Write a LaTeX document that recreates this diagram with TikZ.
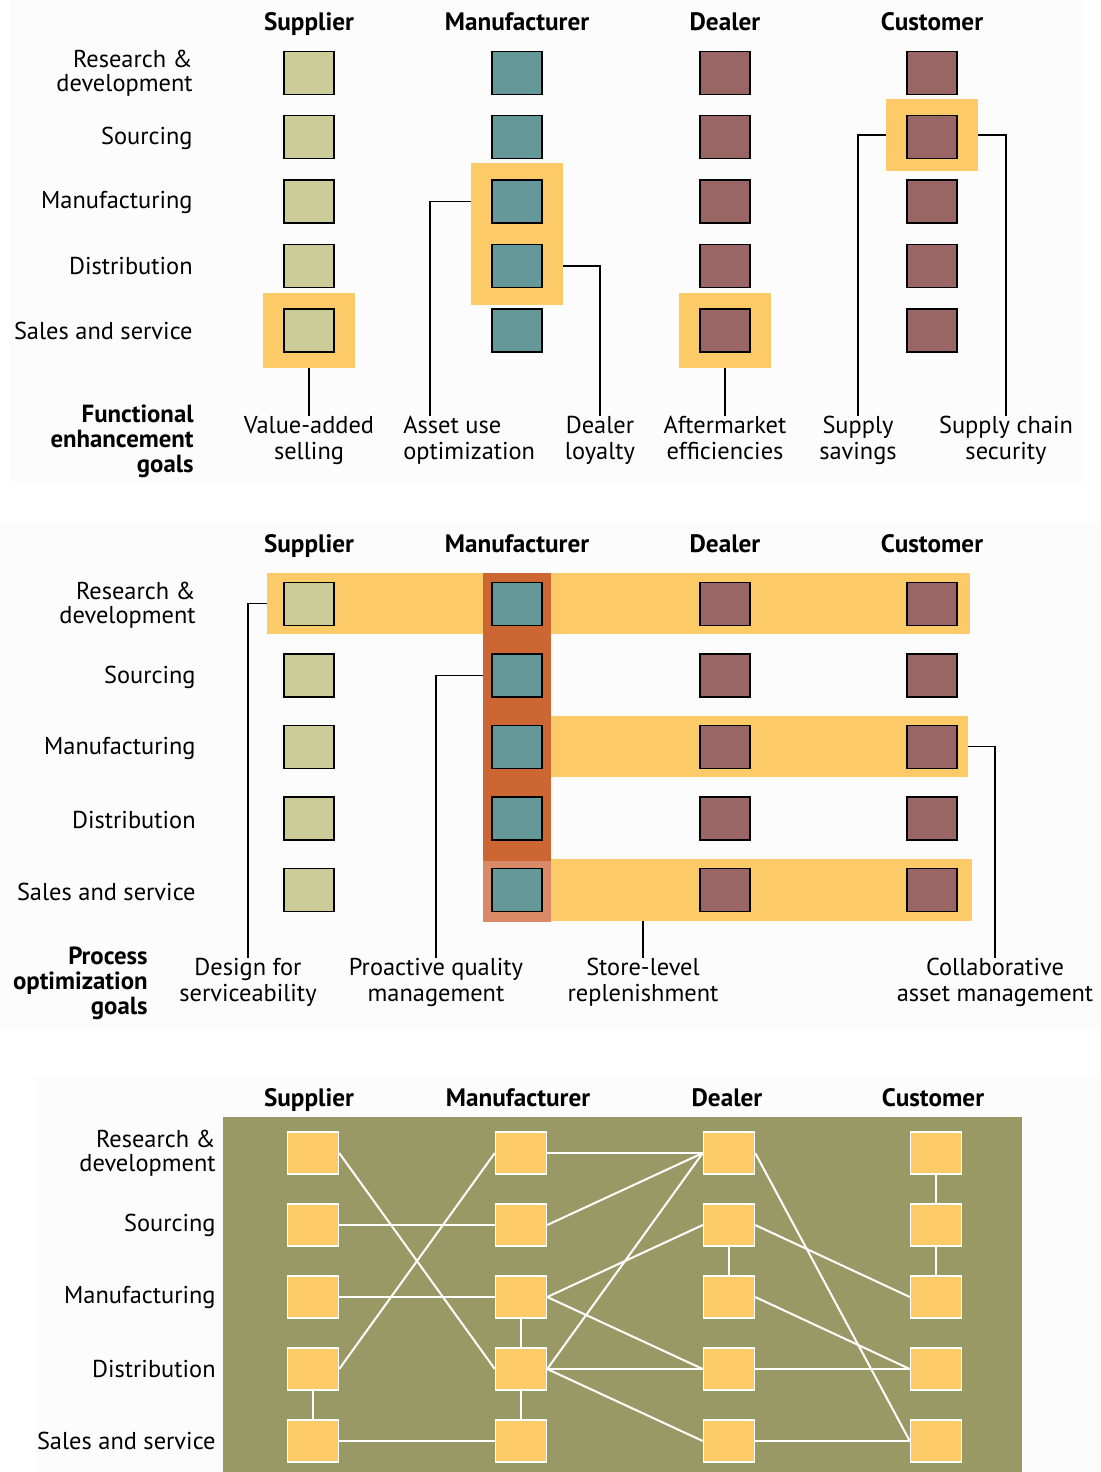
\documentclass[tikz,border=0pt]{standalone}
\usepackage{fontspec}
\setmainfont{PT Sans}
\definecolor{sup}{HTML}{CCCC99}
\definecolor{man}{HTML}{659999}
\definecolor{dea}{HTML}{996565}
\definecolor{hl}{HTML}{FCCA66}
\definecolor{org}{HTML}{CC6633}
\definecolor{lorg}{HTML}{DA8A66}
\definecolor{olive}{HTML}{999966}
\definecolor{panel}{HTML}{FCFCFC}
\begin{document}
\begin{tikzpicture}[x=0.5pt,y=-0.5pt,
  lbl/.style={font=\fontsize{12.2}{13}\selectfont, inner sep=0pt},
  rowlbl/.style={font=\fontsize{12.2}{11.8}\selectfont, inner sep=0pt, anchor=east, align=right},
  hdr/.style={font=\fontsize{12.6}{13}\selectfont\bfseries, anchor=base, inner sep=0pt},
  goal/.style={lbl, anchor=north, align=center},
  bgoal/.style={font=\fontsize{12.4}{12.5}\selectfont\bfseries, inner sep=0pt, anchor=north east, align=right},
  box/.style={draw=black, line width=0.8pt, minimum width=25pt, minimum height=21.5pt, inner sep=0pt},
  sbox/.style={box, fill=sup},
  mbox/.style={box, fill=man},
  dbox/.style={box, fill=dea},
  hlbox/.style={fill=hl, inner sep=0pt, minimum width=46pt, minimum height=37.5pt},
  band/.style={fill=hl, inner sep=0pt},
  conn/.style={line width=0.6pt, draw=black},
  web/.style={draw=white, line width=1pt},
  ybox/.style={fill=hl, draw=white, line width=0.7pt, minimum width=25.5pt, minimum height=21pt, inner sep=0pt}
]
\path[use as bounding box] (0,0) rectangle (1100,1472);
% panel backgrounds
\fill[panel] (10,0) rectangle (1085,482);
\fill[panel] (0,522) rectangle (1100,1030);
\fill[panel] (35,1077) rectangle (1100,1472);

% ================= TOP PANEL =================
\node[hdr] (h1S) at (309,31) {Supplier};
\node[hdr] (h1M) at (517,31) {Manufacturer};
\node[hdr] (h1D) at (725,31) {Dealer};
\node[hdr] (h1C) at (932,31) {Customer};

\node[rowlbl] (r1a) at (193,73) {Research \&\\development};
\node[rowlbl] (r1b) at (193,138) {Sourcing};
\node[rowlbl] (r1c) at (193,202) {Manufacturing};
\node[rowlbl] (r1d) at (193,266) {Distribution};
\node[rowlbl] (r1e) at (193,331) {Sales and service};

\node[hlbox] (hS5) at (309,330.5) {};
\node[hlbox, minimum height=71pt] (hM34) at (517,234) {};
\node[hlbox] (hD5) at (725,330.5) {};
\node[hlbox, minimum height=36pt] (hC2) at (932,135) {};

\foreach \r/\yy in {1/73,2/137,3/201.5,4/266,5/330.5}{
  \node[sbox] (tS\r) at (309,\yy) {};
  \node[mbox] (tM\r) at (517,\yy) {};
  \node[dbox] (tD\r) at (725,\yy) {};
  \node[dbox] (tC\r) at (932,\yy) {};
}

\node[bgoal] (fg) at (194,404) {Functional\\enhancement\\goals};
\node[goal] (vas) at (309,416) {Value-added\\selling};
\node[lbl, anchor=north west, align=left] (auo) at (403,416) {Asset use\\optimization};
\coordinate (auoT) at (430,416);
\node[goal] (dl) at (600,416) {Dealer\\loyalty};
\node[goal] (ae) at (725,416) {Aftermarket\\efficiencies};
\node[goal] (ss) at (858,416) {Supply\\savings};
\node[goal] (scs) at (1006,416) {Supply chain\\security};

\draw[conn] (hS5.south) -- (vas.north);
\draw[conn] (hM34.west |- tM3.center) -| (auoT);
\draw[conn] (hM34.east |- tM4.center) -| (dl.north);
\draw[conn] (hD5.south) -- (ae.north);
\draw[conn] (hC2.west) -| (ss.north);
\draw[conn] (hC2.east) -| (scs.north);

% ================= MIDDLE PANEL =================
\node[hdr] (h2S) at (309,552) {Supplier};
\node[hdr] (h2M) at (517,552) {Manufacturer};
\node[hdr] (h2D) at (725,552) {Dealer};
\node[hdr] (h2C) at (932,552) {Customer};

\node[rowlbl] (r2a) at (196,605) {Research \&\\development};
\node[rowlbl] (r2b) at (196,677) {Sourcing};
\node[rowlbl] (r2c) at (196,748.5) {Manufacturing};
\node[rowlbl] (r2d) at (196,820) {Distribution};
\node[rowlbl] (r2e) at (196,892) {Sales and service};

\node[band, minimum width=351.5pt, minimum height=30.5pt] (band1) at (618.5,603.5) {};
\node[band, minimum width=208.5pt, minimum height=30.5pt] (band3) at (759.5,746.5) {};
\node[band, minimum width=210.5pt, minimum height=31pt] (band5) at (761.5,890) {};
\node[fill=org, inner sep=0pt, minimum width=34pt, minimum height=144pt] (col) at (517,717) {};
\node[fill=lorg, inner sep=0pt, minimum width=34pt, minimum height=30.5pt] (coll) at (517,891.5) {};

\foreach \r/\yy in {1/604,2/675.5,3/747,4/818.5,5/890}{
  \node[sbox] (mS\r) at (309,\yy) {};
  \node[mbox] (mM\r) at (517,\yy) {};
  \node[dbox] (mD\r) at (725,\yy) {};
  \node[dbox] (mC\r) at (932,\yy) {};
}

\node[bgoal] (pg) at (148,946) {Process\\optimization\\goals};
\node[goal] (dfs) at (248,958) {Design for\\serviceability};
\node[goal] (pqm) at (436,958) {Proactive quality\\management};
\node[goal] (slr) at (643,958) {Store-level\\replenishment};
\node[goal] (cam) at (995,958) {Collaborative\\asset management};

\draw[conn] (band1.west) -| (dfs.north);
\draw[conn] (col.west |- mM2.center) -| (pqm.north);
\draw[conn] (slr.north |- band5.south) -- (slr.north);
\draw[conn] (band3.east) -| (cam.north);

% ================= BOTTOM PANEL =================
\node[hdr] (h3S) at (309,1106) {Supplier};
\node[hdr] (h3M) at (518,1106) {Manufacturer};
\node[hdr] (h3D) at (727,1106) {Dealer};
\node[hdr] (h3C) at (933,1106) {Customer};

\fill[olive] (223,1117) rectangle (1022,1472);

\node[rowlbl] (r3a) at (216,1153) {Research \&\\development};
\node[rowlbl] (r3b) at (216,1225) {Sourcing};
\node[rowlbl] (r3c) at (216,1297) {Manufacturing};
\node[rowlbl] (r3d) at (216,1369) {Distribution};
\node[rowlbl] (r3e) at (216,1441) {Sales and service};

\foreach \r/\yy in {1/1153,2/1225,3/1297,4/1369,5/1441}{
  \node[ybox] (bS\r) at (313,\yy) {};
  \node[ybox] (bM\r) at (521,\yy) {};
  \node[ybox] (bD\r) at (729,\yy) {};
  \node[ybox] (bC\r) at (936,\yy) {};
}

% supplier links
\draw[web] (bS1.east) -- (bM4.west);
\draw[web] (bS2.east) -- (bM2.west);
\draw[web] (bS3.east) -- (bM3.west);
\draw[web] (bS4.east) -- (bM1.west);
\draw[web] (bS4.south) -- (bS5.north);
\draw[web] (bS5.east) -- (bM5.west);
% manufacturer links
\draw[web] (bM1.east) -- (bD1.west);
\draw[web] (bM2.east) -- (bD1.west);
\draw[web] (bM3.east) -- (bD2.west);
\draw[web] (bM3.east) -- (bD4.west);
\draw[web] (bM3.south) -- (bM4.north);
\draw[web] (bM4.east) -- (bD1.west);
\draw[web] (bM4.east) -- (bD4.west);
\draw[web] (bM4.east) -- (bD5.west);
\draw[web] (bM4.south) -- (bM5.north);
% dealer links
\draw[web] (bD1.east) -- (bC5.west);
\draw[web] (bD2.south) -- (bD3.north);
\draw[web] (bD2.east) -- (bC3.west);
\draw[web] (bD3.east) -- (bC4.west);
\draw[web] (bD4.east) -- (bC4.west);
\draw[web] (bD5.east) -- (bC5.west);
% customer links
\draw[web] (bC1.south) -- (bC2.north);
\draw[web] (bC2.south) -- (bC3.north);
\end{tikzpicture}
\end{document}
